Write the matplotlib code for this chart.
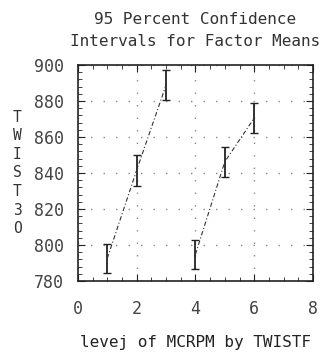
import matplotlib
matplotlib.use('Agg')
import matplotlib.pyplot as plt
from matplotlib.ticker import MultipleLocator

# factor levels and confidence intervals
levels_a = [1, 2, 3]
lower_a = [784.5, 833, 880.5]
upper_a = [800.5, 850, 897]
levels_b = [4, 5, 6]
lower_b = [786.5, 838, 862]
upper_b = [803, 854.5, 879]

title = "95 Percent Confidence\nIntervals for Factor Means"
xlab = "levej of MCRPM by TWISTF"
ylab = "T\nW\nI\nS\nT\n3\nO"

plt.rcParams['font.family'] = 'DejaVu Sans Mono'

fig = plt.figure(figsize=(3.23, 3.57), dpi=100)
ax = fig.add_axes([0.241, 0.213, 0.728, 0.605])

for lv, lo, hi in [(levels_a, lower_a, upper_a), (levels_b, lower_b, upper_b)]:
	means = [(l + h) / 2 for l, h in zip(lo, hi)]
	err = [[m - l for m, l in zip(means, lo)], [h - m for m, h in zip(means, hi)]]
	ax.errorbar(lv, means, yerr=err, fmt='none', ecolor='#222222',
				elinewidth=1.3, capsize=3, capthick=1)
	ax.plot(lv, means, color='#333333', lw=0.8, linestyle=(0, (4, 2, 1, 2)))

ax.set_xlim(0, 8)
ax.set_ylim(780, 900)
ax.xaxis.set_major_locator(MultipleLocator(2))
ax.xaxis.set_minor_locator(MultipleLocator(0.5))
ax.yaxis.set_major_locator(MultipleLocator(20))
ax.yaxis.set_minor_locator(MultipleLocator(4))
ax.tick_params(which='both', direction='in', top=True, right=True, color='#222222')
ax.tick_params(which='major', length=5, labelsize=12, labelcolor='#444444')
ax.tick_params(axis='x', which='major', pad=14)
ax.tick_params(axis='y', which='major', pad=10)
ax.tick_params(which='minor', length=3)
ax.grid(True, which='major', color='#888888', lw=1, linestyle=(0, (1, 8)))
for s in ax.spines.values():
	s.set_linewidth(1.2)
	s.set_color('#222222')

ax.set_title(title, fontsize=11.5, color='#333333', linespacing=1.55, pad=14)
ax.set_xlabel(xlab, fontsize=11.5, color='#222222', labelpad=12)
ax.set_ylabel(ylab, fontsize=10.5, rotation=0, color='#333333', linespacing=1.3,
			  va='center', labelpad=12)

fig.savefig('out.png', dpi=100)
